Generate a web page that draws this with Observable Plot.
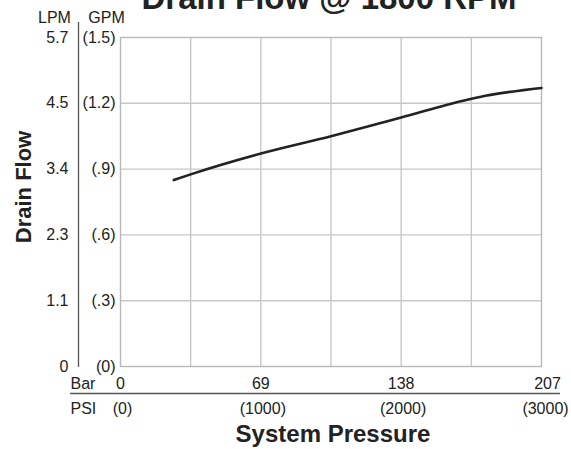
<!DOCTYPE html>
<html>
<head>
<meta charset="utf-8">
<script src="https://cdn.jsdelivr.net/npm/d3@7"></script>
<script src="https://cdn.jsdelivr.net/npm/@observablehq/plot@0.6"></script>
<style>
  html, body { margin: 0; padding: 0; background: #fff; overflow: hidden; }
  #chart svg { display: block; font-family: "Liberation Sans", Arial, Helvetica, sans-serif; }
</style>
</head>
<body>
<div id="chart"></div>
<script>
// Data
const psi = [380, 500, 1000, 1500, 2000, 2450, 2600, 3000];
const gpm = [0.85, 0.876, 0.971, 1.05, 1.135, 1.213, 1.234, 1.27];

const gpmTicks = [0, 0.3, 0.6, 0.9, 1.2, 1.5];
const gpmLabels = ["(0)", "(.3)", "(.6)", "(.9)", "(1.2)", "(1.5)"];
const lpmLabels = ["0", "1.1", "2.3", "3.4", "4.5", "5.7"];

const psiGrid = [500, 1000, 1500, 2000, 2500];
const psiTicks = [0, 1000, 2000];
const barLabels = ["0", "69", "138"];
const psiLabels = ["(0)", "(1000)", "(2000)"];
const psiLast = [3000];
const barLast = ["207"];
const psiLastLabel = ["(3000)"];

const title = "Drain Flow @ 1800 RPM";
const xTitle = "System Pressure";
const yTitle = "Drain Flow";

const ink = "#222";
const gridColor = "#c8c8c8";

const points = psi.map((p, i) => ({psi: p, gpm: gpm[i]}));

const T = {fill: ink, lineAnchor: "middle", fontSize: 16};

const chart = Plot.plot({
  width: 571,
  height: 449,
  marginLeft: 120,
  marginRight: 30,
  marginTop: 37,
  marginBottom: 83,
  x: {domain: [0, 3000], axis: null},
  y: {domain: [0, 1.5], axis: null},
  style: {fontFamily: "'Liberation Sans', Arial, sans-serif", color: ink, background: "#fff"},
  marks: [
    Plot.ruleX(psiGrid, {stroke: gridColor, strokeWidth: 1.4}),
    Plot.ruleY(gpmTicks.slice(1, -1), {stroke: gridColor, strokeWidth: 1.4}),
    Plot.frame({stroke: "#b8b8b8", strokeWidth: 1.4}),
    Plot.line(points, {x: "psi", y: "gpm", stroke: ink, strokeWidth: 2.6, curve: "monotone-x"}),
    // y tick labels (GPM and LPM)
    Plot.text(gpmTicks, {...T, y: d => d, text: (d, i) => gpmLabels[i], frameAnchor: "left", dx: -5, textAnchor: "end"}),
    Plot.text(gpmTicks, {...T, y: d => d, text: (d, i) => lpmLabels[i], frameAnchor: "left", dx: -52, textAnchor: "end"}),
    Plot.text(["LPM"], {...T, frameAnchor: "top-left", dx: -66, dy: -20, textAnchor: "middle"}),
    Plot.text(["GPM"], {...T, frameAnchor: "top-left", dx: -14, dy: -20, textAnchor: "middle"}),
    Plot.ruleX([0], {dx: -42, insetTop: -15, insetBottom: -1, stroke: "#555", strokeWidth: 1.3}),
    // x tick labels (Bar and PSI)
    Plot.text(psiTicks, {...T, x: d => d, text: (d, i) => barLabels[i], frameAnchor: "bottom", dy: 17}),
    Plot.text(psiTicks, {...T, x: d => d, text: (d, i) => psiLabels[i], frameAnchor: "bottom", dy: 42, dx: 2}),
    Plot.text(psiLast, {...T, x: d => d, text: barLast, frameAnchor: "bottom", dy: 17, dx: 6}),
    Plot.text(psiLast, {...T, x: d => d, text: psiLastLabel, frameAnchor: "bottom", dy: 42, dx: 4}),
    Plot.text(["Bar"], {...T, frameAnchor: "bottom-left", dx: -50, dy: 17, textAnchor: "start"}),
    Plot.text(["PSI"], {...T, frameAnchor: "bottom-left", dx: -50, dy: 42, textAnchor: "start"}),
    Plot.ruleY([0], {dy: 27, insetLeft: -50, insetRight: -19, stroke: "#555", strokeWidth: 1.3}),
    // titles
    Plot.text([xTitle], {...T, frameAnchor: "bottom", dx: 2, dy: 68, fontSize: 24, fontWeight: "bold"}),
    Plot.text([yTitle], {...T, frameAnchor: "left", dx: -97, dy: -15, rotate: -90, textAnchor: "middle", fontSize: 22, fontWeight: "bold"}),
    Plot.text([title], {...T, frameAnchor: "top", dx: -2, dy: -39, fontSize: 33, fontWeight: "bold"})
  ]
});

document.getElementById("chart").appendChild(chart);
</script>
</body>
</html>
